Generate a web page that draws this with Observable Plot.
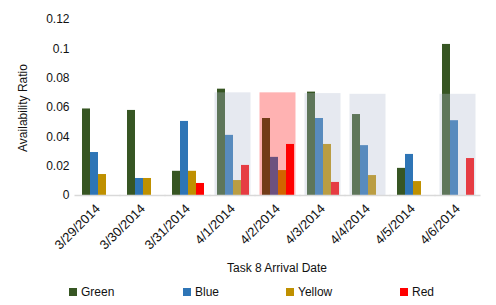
<!DOCTYPE html>
<html>
<head>
<meta charset="utf-8">
<script src="https://cdn.jsdelivr.net/npm/d3@7"></script>
<script src="https://cdn.jsdelivr.net/npm/@observablehq/plot@0.6"></script>
<style>
  html, body { margin: 0; padding: 0; background: #fff; }
  #wrap { position: relative; width: 496px; height: 305px; font-family: "Liberation Sans", Arial, sans-serif; font-size: 12px; color: #111; }
  #chart { position: absolute; left: 0; top: 0; }
  #chart svg [aria-label="fx-axis tick label"] { font-size: 13px; }
  #xtitle { position: absolute; left: 72px; width: 410px; top: 261px; text-align: center; }
  #ytitle { position: absolute; left: 23px; top: 108px; transform: translate(-50%, -50%) rotate(-90deg); white-space: nowrap; }
  .leg { position: absolute; top: 285px; white-space: nowrap; }
  .leg span.sw { display: inline-block; width: 8px; height: 8px; margin-right: 4px; vertical-align: 0px; }
</style>
</head>
<body>
<div id="wrap">
  <div id="chart"></div>
  <div id="ytitle">Availability Ratio</div>
  <div id="xtitle">Task 8 Arrival Date</div>
  <div id="legend"></div>
</div>
<script>
const dates = ["3/29/2014","3/30/2014","3/31/2014","4/1/2014","4/2/2014","4/3/2014","4/4/2014","4/5/2014","4/6/2014"];
const series = ["Green","Blue","Yellow","Red"];
const colors = ["#375623","#2E75B6","#BF9000","#FF0000"];
const green  = [0.059, 0.058, 0.0165, 0.0725, 0.0525, 0.0705, 0.0552, 0.0185, 0.103];
const blue   = [0.0293, 0.0116, 0.0505, 0.041, 0.026, 0.0525, 0.034, 0.028, 0.051];
const yellow = [0.0143, 0.0116, 0.0165, 0.0102, 0.017, 0.0348, 0.0136, 0.0095, 0];
const red    = [0, 0, 0.0082, 0.0205, 0.0348, 0.0089, 0, 0, 0.0252];
const highlight     = [0, 0, 0, 0.070, 0.070, 0.0695, 0.069, 0, 0.069];
const highlightKind = ["", "", "", "gray", "red", "gray", "gray", "", "gray"];
const yTicks = [0, 0.02, 0.04, 0.06, 0.08, 0.1, 0.12];

const values = [green, blue, yellow, red];
const rows = dates.flatMap((d, i) => series.map((s, k) => ({date: d, series: s, color: colors[k], value: values[k][i]})));
const hl = dates.map((d, i) => ({date: d, value: highlight[i], kind: highlightKind[i]})).filter(d => d.kind);

const chart = Plot.plot({
  width: 496,
  height: 258,
  marginTop: 19,
  marginBottom: 63,
  marginLeft: 72,
  marginRight: 14,
  style: {fontFamily: "Liberation Sans, Arial, sans-serif", fontSize: "12px", color: "#111", background: "transparent"},
  fx: {domain: dates, paddingInner: 0.276, paddingOuter: 0.138, tickRotate: -45, tickSize: 0, tickPadding: 11, label: null},
  x: {domain: series, padding: 0, axis: null},
  y: {domain: [0, 0.12], ticks: yTicks, tickSize: 0, tickPadding: 12, label: null,
      tickFormat: d => d === 0 ? "0" : String(+d.toFixed(2))},
  marks: [
    Plot.barY(rows, {fx: "date", x: "series", y: "value", fill: d => d.color, inset: 0}),
    Plot.rect(hl.filter(d => d.kind === "gray"), {fx: "date", y1: 0, y2: "value", fill: "rgb(177,186,208)", fillOpacity: 0.32, insetLeft: -1.5, insetRight: -1.5}),
    Plot.rect(hl.filter(d => d.kind === "red"), {fx: "date", y1: 0, y2: "value", fill: "#FF0000", fillOpacity: 0.3, insetLeft: -1.5, insetRight: -1.5}),
    Plot.ruleY([0], {stroke: "#d9d9d9", strokeWidth: 1.5, insetLeft: -6.5, insetRight: -6.5})
  ]
});
document.getElementById("chart").appendChild(chart);

const legendLeft = [69, 183, 286, 400];
const legend = document.getElementById("legend");
series.forEach((s, k) => {
  const el = document.createElement("div");
  el.className = "leg";
  el.style.left = legendLeft[k] + "px";
  el.innerHTML = `<span class="sw" style="background:${colors[k]}"></span>${s}`;
  legend.appendChild(el);
});
</script>
</body>
</html>
